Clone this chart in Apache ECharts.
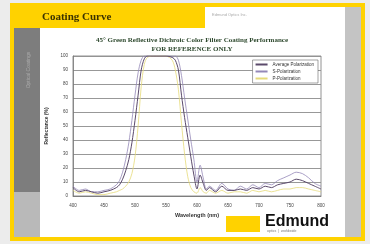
<!DOCTYPE html>
<html>
<head>
<meta charset="utf-8">
<script src="https://cdn.jsdelivr.net/npm/echarts@6/dist/echarts.min.js"></script>
<style>
  html, body { margin: 0; padding: 0; background: #ececec; }
  #coatingChart { width: 370px; height: 244px; }
</style>
</head>
<body>
<div id="coatingChart"></div>
<script>
var dom = document.getElementById("coatingChart");
var myChart = echarts.init(dom, null, { renderer: 'canvas' });

// wavelength samples (nm)
var wavelengths = [400, 410, 420, 430, 440, 450, 460, 470, 475, 480, 485, 490, 495, 500, 505, 510, 515, 520, 530, 540,
    550, 560, 565, 570, 575, 580, 585, 590, 595, 600, 605, 610, 615, 620, 630, 640, 650, 660, 670, 680,
    690, 700, 710, 720, 730, 740, 750, 760, 770, 780, 790, 800];

// reflectance (%)
var avgPol = [6, 3, 4, 3, 2, 3, 4, 6, 8, 12, 18, 26, 38, 54, 72, 90, 98, 100, 100, 100,
    100, 99, 97, 90, 72, 56, 42, 28, 15, 5, 15, 9, 4, 6, 3, 7, 4, 4, 5, 4,
    6, 5, 7, 6, 8, 9, 10, 12, 11, 9, 7, 5];
var sPol = [7, 4, 5, 3, 3, 4, 5, 8, 11, 17, 26, 38, 54, 72, 88, 97, 100, 100, 100, 100,
    100, 100, 100, 97, 86, 70, 55, 40, 26, 10, 22, 13, 5, 7, 4, 9, 5, 4, 7, 5,
    8, 6, 9, 8, 11, 13, 15, 17, 16, 13, 9, 7];
var pPol = [4, 2, 3, 2, 1, 1, 2, 3, 4, 5, 7, 10, 16, 28, 50, 78, 94, 99, 100, 100,
    100, 97, 90, 76, 52, 30, 14, 6, 3, 2, 6, 3, 2, 4, 2, 4, 2, 3, 3, 2,
    4, 3, 4, 3, 4, 5, 5, 6, 6, 5, 4, 3];

var seriesNames = ['Average Polarization', 'S-Polarization', 'P-Polarization'];

function pairs(vals) {
    return wavelengths.map(function (w, i) { return [w, vals[i]]; });
}

var lineStyleOf = function (color, width) {
    return { color: color, width: width };
};

option = {
    backgroundColor: '#ececec',
    animation: false,
    title: {
        text: '45° Green Reflective Dichroic Color Filter Coating Performance\nFOR REFERENCE ONLY',
        left: 187,
        top: 31,
        textAlign: 'center',
        textStyle: {
            fontFamily: 'Liberation Serif',
            fontWeight: 'bold',
            fontSize: 7,
            lineHeight: 9,
            color: '#2f4a2f'
        }
    },
    legend: {
        data: seriesNames,
        orient: 'vertical',
        right: 52,
        top: 60,
        itemWidth: 12,
        itemHeight: 2,
        itemGap: 2,
        padding: [2, 4, 2, 3],
        icon: 'rect',
        borderColor: '#666',
        borderWidth: 0.6,
        backgroundColor: '#fff',
        textStyle: { fontSize: 4.5, color: '#333', fontFamily: 'Liberation Sans' }
    },
    grid: {
        left: 73,
        right: 49,
        top: 56,
        bottom: 48,
        show: true,
        borderColor: '#777',
        borderWidth: 0.8,
        backgroundColor: '#fff'
    },
    xAxis: {
        type: 'value',
        min: 400,
        max: 800,
        interval: 50,
        name: 'Wavelength (nm)',
        nameLocation: 'middle',
        nameGap: 15,
        nameTextStyle: { fontSize: 5.5, fontWeight: 'bold', color: '#333', fontFamily: 'Liberation Sans' },
        axisLine: { lineStyle: { color: '#777', width: 0.8 } },
        axisTick: { show: false },
        splitLine: { show: false },
        axisLabel: { fontSize: 4.5, color: '#444', margin: 7 }
    },
    yAxis: {
        type: 'value',
        min: 0,
        max: 100,
        interval: 10,
        name: 'Reflectance (%)',
        nameLocation: 'middle',
        nameRotate: 90,
        nameGap: 13,
        nameTextStyle: { fontSize: 5, fontWeight: 'bold', color: '#333', fontFamily: 'Liberation Sans' },
        axisLine: { show: true, lineStyle: { color: '#777', width: 0.8 } },
        axisTick: { show: false },
        splitLine: { lineStyle: { color: '#8c8c8c', width: 0.9 } },
        axisLabel: { fontSize: 4.5, color: '#444', margin: 5 }
    },
    graphic: [
        // yellow frame + white slide
        { type: 'rect', z: -20, shape: { x: 12, y: 5, width: 351, height: 234 }, style: { fill: '#fff', stroke: '#ffd200', lineWidth: 4 } },
        // header band
        { type: 'rect', z: -19, shape: { x: 14, y: 7, width: 191, height: 21 }, style: { fill: '#ffd200' } },
        { type: 'text', z: -18, style: { x: 42, y: 17, text: 'Coating Curve', fill: '#3a3200', font: 'bold 11px "Liberation Serif"', verticalAlign: 'middle' } },
        { type: 'text', z: -18, style: { x: 212, y: 15, text: 'Edmund Optics Inc.', fill: '#aaa', font: '4px "Liberation Sans"', verticalAlign: 'middle' } },
        // left sidebar
        { type: 'rect', z: -19, shape: { x: 14, y: 28, width: 26, height: 164 }, style: { fill: '#7d7d7d' } },
        { type: 'rect', z: -19, shape: { x: 14, y: 192, width: 26, height: 45 }, style: { fill: '#b9b9b9' } },
        { type: 'text', z: -18, rotation: Math.PI / 2, x: 29, y: 70, style: { text: 'Optical Coatings', fill: '#aaa', font: '5px "Liberation Sans"', align: 'center', verticalAlign: 'middle' } },
        // right strip
        { type: 'rect', z: -19, shape: { x: 345, y: 7, width: 16, height: 230 }, style: { fill: '#c4c4c4' } },
        // logo
        { type: 'rect', z: 10, shape: { x: 226, y: 216, width: 34, height: 16 }, style: { fill: '#ffd200' } },
        { type: 'text', z: 10, style: { x: 265, y: 222, text: 'Edmund', fill: '#111', font: 'bold 16px "Liberation Sans"', verticalAlign: 'middle' } },
        { type: 'text', z: 10, style: { x: 267, y: 231, text: 'optics  |  worldwide', fill: '#777', font: '3.5px "Liberation Sans"', verticalAlign: 'middle' } }
    ],
    series: [
        {
            name: seriesNames[1],
            type: 'line',
            data: pairs(sPol),
            smooth: 0.3,
            showSymbol: false,
            lineStyle: lineStyleOf('#9488b8', 0.8),
            itemStyle: { color: '#9488b8' }
        },
        {
            name: seriesNames[2],
            type: 'line',
            data: pairs(pPol),
            smooth: 0.3,
            showSymbol: false,
            lineStyle: lineStyleOf('#e6da7a', 0.8),
            itemStyle: { color: '#e6da7a' }
        },
        {
            name: seriesNames[0],
            type: 'line',
            data: pairs(avgPol),
            smooth: 0.3,
            showSymbol: false,
            lineStyle: lineStyleOf('#5b4a6b', 1),
            itemStyle: { color: '#5b4a6b' }
        }
    ]
};

if (option && typeof option === "object") {
    myChart.setOption(option, true);
}

window.addEventListener("resize", function () {
    myChart.resize();
});
</script>
</body>
</html>
